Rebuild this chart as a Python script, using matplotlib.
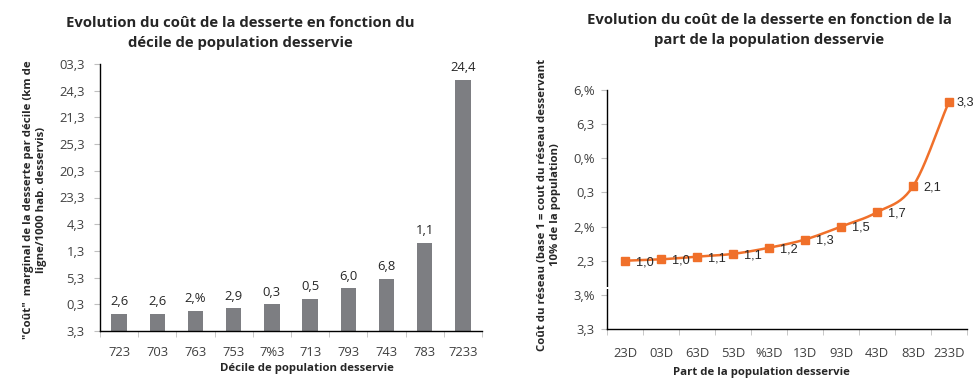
import numpy as np
import matplotlib
matplotlib.use("Agg")
import matplotlib.pyplot as plt
from matplotlib.patches import Rectangle
from matplotlib.ticker import FixedLocator, FuncFormatter, NullFormatter

# Left panel: marginal cost of serving each population decile
decile_labels = ["723", "703", "763", "753", "7%3", "713", "793", "743", "783", "7233"]
marginal_cost = [1.3, 1.3, 1.5, 1.7, 2.0, 2.4, 3.2, 3.9, 6.6, 18.8]

# Right panel: network cost index (base 1 = first 10 %) vs share served
share_served = [10, 20, 30, 40, 50, 60, 70, 80, 90, 100]
cost_index = [1.00, 1.02, 1.06, 1.10, 1.19, 1.31, 1.50, 1.71, 2.09, 3.33]

left_ticks = [0, 2, 4, 6, 8, 10, 12, 14, 16, 18, 20]
right_ticks = [0.0, 0.5, 1.0, 1.5, 2.0, 2.5, 3.0, 3.5]

# digit glyph table of the label font
GLYPHS = str.maketrans("0123456789%", "32065%1948D")


def glyph_num(v, d=1):
    return f"{v:.{d}f}".replace(".", ",").translate(GLYPHS)


def smooth(xs, ys, n=24):
    """Catmull-Rom curve through the points (rendering only)."""
    p = np.column_stack([xs, ys]).astype(float)
    p = np.vstack([2 * p[0] - p[1], p, 2 * p[-1] - p[-2]])
    out = []
    t = np.linspace(0, 1, n)[:, None]
    for i in range(1, len(p) - 2):
        p0, p1, p2, p3 = p[i - 1], p[i], p[i + 1], p[i + 2]
        seg = 0.5 * ((2 * p1) + (-p0 + p2) * t
                     + (2 * p0 - 5 * p1 + 4 * p2 - p3) * t ** 2
                     + (-p0 + 3 * p1 - 3 * p2 + p3) * t ** 3)
        out.append(seg if i == 1 else seg[1:])
    s = np.vstack(out)
    return s[:, 0], s[:, 1]


TITLE_FONT = ["Open Sans", "DejaVu Sans"]
TICK_FONT = ["Open Sans", "DejaVu Sans"]
TXT = "#262626"
TICKC = "#404040"
W, H = 975, 379

fig = plt.figure(figsize=(W / 100, H / 100), dpi=100)


def px_axes(x0, y0, x1, y1):
    return fig.add_axes([x0 / W, 1 - y1 / H, (x1 - x0) / W, (y1 - y0) / H])


def style_axes(ax, ypad, xpad):
    for s in ("top", "right"):
        ax.spines[s].set_visible(False)
    for s in ("left", "bottom"):
        ax.spines[s].set_color("#000000")
        ax.spines[s].set_linewidth(1.0)
    ax.tick_params(axis="y", which="major", length=4, color="#bfbfbf",
                   labelsize=9.4, labelcolor=TICKC, pad=ypad)
    ax.tick_params(axis="x", which="major", length=0, labelsize=9.4,
                   labelcolor=TICKC, pad=xpad)
    ax.tick_params(axis="x", which="minor", length=4, color="#bfbfbf")
    for lab in ax.get_xticklabels() + ax.get_yticklabels():
        lab.set_fontfamily(TICK_FONT)


# ---- left chart: bars
ax1 = px_axes(100, 64, 482, 331)
x = np.arange(len(marginal_cost))
ax1.bar(x, marginal_cost, width=0.4, color="#7d7e82", zorder=2)
ax1.set_xlim(-0.5, len(x) - 0.5)
ax1.set_ylim(left_ticks[0], left_ticks[-1])
ax1.yaxis.set_major_locator(FixedLocator(left_ticks))
ax1.yaxis.set_major_formatter(FuncFormatter(lambda v, _: glyph_num(v)))
ax1.set_xticks(x)
ax1.set_xticklabels(decile_labels)
ax1.xaxis.set_minor_locator(FixedLocator(np.arange(-0.5, len(x), 1.0)))
ax1.xaxis.set_minor_formatter(NullFormatter())
style_axes(ax1, 7, 11)
for i, v in enumerate(marginal_cost):
    ax1.annotate(glyph_num(v), (i, v), xytext=(0, 4), textcoords="offset points",
                 ha="center", va="bottom", fontsize=9.4, color=TXT,
                 fontfamily=TICK_FONT)

# ---- right chart: smoothed line with square markers
ax2 = px_axes(607, 90, 967, 329)
xr = np.arange(len(cost_index))
sx, sy = smooth(xr, cost_index)
ax2.plot(sx, sy, color="#f0702a", lw=1.8, zorder=2, solid_capstyle="round")
ax2.plot(xr, cost_index, ls="none", marker="s", ms=6.4, color="#f0702a",
         zorder=3)
ax2.set_xlim(-0.5, len(xr) - 0.5)
ax2.set_ylim(right_ticks[0], right_ticks[-1])
ax2.yaxis.set_major_locator(FixedLocator(right_ticks))
ax2.yaxis.set_major_formatter(FuncFormatter(lambda v, _: glyph_num(v)))
ax2.set_xticks(xr)
ax2.set_xticklabels([f"{p}%".translate(GLYPHS) for p in share_served])
ax2.xaxis.set_minor_locator(FixedLocator(np.arange(-0.5, len(xr), 1.0)))
ax2.xaxis.set_minor_formatter(NullFormatter())
style_axes(ax2, 5, 13)
# small break in the vertical axis line
ax2.add_patch(Rectangle((-0.01, 0.585), 0.02, 0.035, color="white", lw=0,
                        transform=ax2.get_yaxis_transform(), clip_on=False,
                        zorder=5))
for i, v in enumerate(cost_index):
    dx = 7.6 if i < len(cost_index) - 1 else 5.6
    ax2.annotate(f"{v:.1f}".replace(".", ","), (i, v), xytext=(dx, -1),
                 textcoords="offset points", ha="left", va="center",
                 fontsize=9.2, color=TXT, fontfamily="Liberation Sans")

# ---- titles and axis titles
tkw = dict(fontfamily=TITLE_FONT, fontweight="bold", color=TXT,
           ha="center", va="center", linespacing=1.6)
fig.text(240 / W, 1 - 33 / H,
         "Evolution du coût de la desserte en fonction du\n"
         "décile de population desservie", fontsize=10.7, **tkw)
fig.text(769 / W, 1 - 30 / H,
         "Evolution du coût de la desserte en fonction de la\n"
         "part de la population desservie", fontsize=10.7, **tkw)

lkw = dict(fontfamily=TITLE_FONT, fontweight="bold", color=TXT,
           ha="center", va="center", linespacing=1.35, fontsize=8.2)
fig.text(307 / W, 1 - 368 / H, "Décile de population desservie", **lkw)
fig.text(761 / W, 1 - 372 / H, "Part de la population desservie", **lkw)
fig.text(35 / W, 1 - 200 / H,
         "\"Coût\"  marginal de la desserte par décile (km de\n"
         "ligne/1000 hab. desservis)", rotation=90, **lkw)
fig.text(549 / W, 1 - 205 / H,
         "Coût du réseau (base 1 = cout du réseau desservant\n"
         "10% de la population)", rotation=90, **lkw)

fig.savefig("out.png", dpi=100, facecolor="white")
